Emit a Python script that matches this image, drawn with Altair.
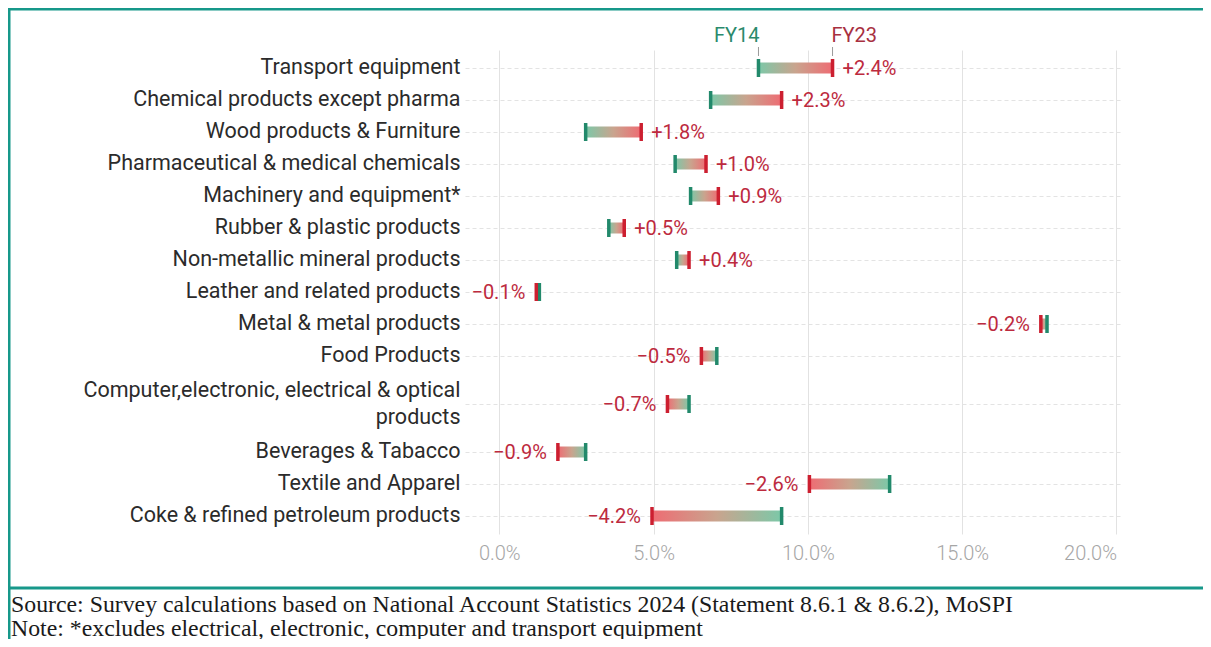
import altair as alt
import pandas as pd

# ---------------- data ----------------
categories = [
    "Transport equipment",
    "Chemical products except pharma",
    "Wood products & Furniture",
    "Pharmaceutical & medical chemicals",
    "Machinery and equipment*",
    "Rubber & plastic products",
    "Non-metallic mineral products",
    "Leather and related products",
    "Metal & metal products",
    "Food Products",
    "Computer,electronic, electrical & optical|products",
    "Beverages & Tabacco",
    "Textile and Apparel",
    "Coke & refined petroleum products",
]
fy14 = [8.4, 6.85, 2.8, 5.7, 6.2, 3.55, 5.75, 1.3, 17.75, 7.05, 6.15, 2.8, 12.65, 9.15]
fy23 = [10.8, 9.15, 4.6, 6.7, 7.1, 4.05, 6.15, 1.2, 17.55, 6.55, 5.45, 1.9, 10.05, 4.95]
change_labels = ["+2.4%", "+2.3%", "+1.8%", "+1.0%", "+0.9%", "+0.5%", "+0.4%",
                 "\u22120.1%", "\u22120.2%", "\u22120.5%", "\u22120.7%", "\u22120.9%",
                 "\u22122.6%", "\u22124.2%"]
x_ticks = [0, 5, 10, 15, 20]
year_labels = ["FY14", "FY23"]
footer_lines = [
    "Source: Survey calculations based on National Account Statistics 2024 (Statement 8.6.1 & 8.6.2), MoSPI",
    "Note: *excludes electrical, electronic, computer and transport equipment",
]

df = pd.DataFrame({"category": categories, "fy14": fy14, "fy23": fy23, "label": change_labels})
df["up"] = df["fy23"] > df["fy14"]

ann = pd.DataFrame({"x": [fy14[0], fy23[0]], "label": year_labels})

# band domain: a spacer slot between rows, two around the two-line label
y_domain = []
for i, c in enumerate(categories):
    if i > 0:
        y_domain.append(f"_gap{i}")
        if "|" in c or "|" in categories[i - 1]:
            y_domain.append(f"_gapx{i}")
    y_domain.append(c)

GREEN = "#22896b"
RED = "#cc1f30"
TEXT_RED = "#bd2a3e"
TEAL = "#17988a"

W, H = 657, 484
PAD = {"left": 457, "top": 42, "right": 81, "bottom": 105}

x_scale = alt.Scale(domain=[-1.11, 20.18], nice=False, zero=False)
x_axis = alt.Axis(
    values=x_ticks, labelExpr="format(datum.value, '.1f') + '%'", title=None,
    grid=True, gridColor="#e2e2e2", gridWidth=1, ticks=False, domain=False,
    labelFont="Roboto", labelFontSize=20, labelFontWeight=300, labelColor="#a6a6a6",
    labelPadding=9, labelFlush=10,
)
y_enc = alt.Y(
    "category:N", title=None,
    scale=alt.Scale(domain=y_domain, paddingInner=0, paddingOuter=0.625),
    axis=alt.Axis(
        values=categories,
        labelExpr="split(datum.value, '|')", labelFont="Roboto", labelFontSize=21.5,
        labelColor="#2b2b2b", labelPadding=5, labelLimit=700, labelLineHeight=27,
        labelOffset=alt.condition("indexof(datum.value, '|') >= 0", alt.value(-13.5), alt.value(0)),
        ticks=False, domain=False, grid=True, gridDash=[4, 3], gridColor="#e3e3e3",
        bandPosition=0.5,
    ),
)


def X(field):
    return alt.X(field, scale=x_scale, axis=x_axis)


base = alt.Chart(df)

grad_up = alt.Gradient(
    gradient="linear", x1=0, x2=1, y1=0, y2=0,
    stops=[alt.GradientStop(color="#7cc8a8", offset=0),
           alt.GradientStop(color="#c9a48e", offset=0.5),
           alt.GradientStop(color="#ee6c73", offset=1)],
)
grad_down = alt.Gradient(
    gradient="linear", x1=0, x2=1, y1=0, y2=0,
    stops=[alt.GradientStop(color="#ee6c73", offset=0),
           alt.GradientStop(color="#c9a48e", offset=0.5),
           alt.GradientStop(color="#7cc8a8", offset=1)],
)

bars_up = base.transform_filter("datum.up").mark_bar(size=11, color=grad_up).encode(
    x=X("fy14:Q"), x2="fy23:Q", y=y_enc)
bars_down = base.transform_filter("!datum.up").mark_bar(size=11, color=grad_down).encode(
    x=X("fy23:Q"), x2="fy14:Q", y=y_enc)

tick14 = base.mark_tick(thickness=3.5, size=18, color=GREEN, opacity=1).encode(x=X("fy14:Q"), y=y_enc)
tick23 = base.mark_tick(thickness=3.5, size=18, color=RED, opacity=1).encode(x=X("fy23:Q"), y=y_enc)

lab_up = base.transform_filter("datum.up").mark_text(
    align="left", baseline="middle", dx=10, dy=1, font="Roboto", fontSize=20, color=TEXT_RED
).encode(x=X("fy23:Q"), y=y_enc, text="label:N")
lab_down = base.transform_filter("!datum.up").mark_text(
    align="right", baseline="middle", dx=-11, dy=1, font="Roboto", fontSize=20, color=TEXT_RED
).encode(x=X("fy23:Q"), y=y_enc, text="label:N")

annb = alt.Chart(ann)
conn = annb.mark_rule(color="#9a9a9a", strokeWidth=1).encode(
    x=X("x:Q"), y=alt.value(-3), y2=alt.value(6))
fy14_txt = annb.transform_filter("datum.label == 'FY14'").mark_text(
    align="right", baseline="alphabetic", dx=1, font="Roboto", fontSize=20, color="#2a8a6c"
).encode(x=X("x:Q"), y=alt.value(-8), text="label:N")
fy23_txt = annb.transform_filter("datum.label == 'FY23'").mark_text(
    align="left", baseline="alphabetic", dx=-1, font="Roboto", fontSize=20, color="#a8303f"
).encode(x=X("x:Q"), y=alt.value(-8), text="label:N")

# ---------------- frame and footer ----------------
one = alt.Chart(pd.DataFrame({"a": [0]}))
left_x = -PAD["left"]
right_x = W + PAD["right"]
top_y = -PAD["top"]
bottom_y = H + PAD["bottom"]

top_line = one.mark_rule(color=TEAL, strokeWidth=3).encode(
    x=alt.value(left_x), x2=alt.value(right_x), y=alt.value(top_y + 1))
left_line = one.mark_rule(color=TEAL, strokeWidth=3).encode(
    x=alt.value(left_x + 1), y=alt.value(top_y), y2=alt.value(bottom_y))
sep_line = one.mark_rule(color=TEAL, strokeWidth=3).encode(
    x=alt.value(left_x), x2=alt.value(right_x), y=alt.value(538))

footer = alt.Chart(pd.DataFrame({"t": ["\n".join(footer_lines)]})).mark_text(
    align="left", baseline="alphabetic", font="Liberation Serif", fontSize=23.8,
    color="#1a1a1a", lineBreak="\n", lineHeight=23.5,
).encode(x=alt.value(left_x + 3), y=alt.value(562), text="t:N")

chart = alt.layer(
    bars_up, bars_down, tick14, tick23, lab_up, lab_down,
    conn, fy14_txt, fy23_txt, top_line, left_line, sep_line, footer,
).properties(
    width=W, height=H, padding=PAD,
    autosize=alt.AutoSizeParams(type="none"),
    background="white",
).configure_view(stroke=None)

chart.save("out.html", embed_options={"renderer": "svg", "actions": False})
